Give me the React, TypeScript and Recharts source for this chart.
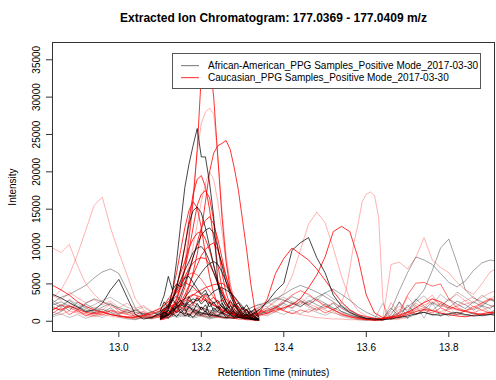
import React from 'react';
import { LineChart, Line, XAxis, YAxis } from 'recharts';

// ---------- time grids (minutes) ----------
const timeCoarse = [
  12.84, 12.86, 12.88, 12.9, 12.92, 12.94, 12.96, 12.98, 13.0, 13.02, 13.04,
  13.06, 13.08, 13.1, 13.12, 13.14, 13.16, 13.18, 13.2, 13.22, 13.24, 13.26,
  13.28, 13.3, 13.32, 13.34, 13.36, 13.38, 13.4, 13.42, 13.44, 13.46, 13.48,
  13.5, 13.52, 13.54, 13.56, 13.58, 13.6, 13.62, 13.64, 13.66, 13.68, 13.7,
  13.72, 13.74, 13.76, 13.78, 13.8, 13.82, 13.84, 13.86, 13.88, 13.9, 13.92,
];
const timePeak = [
  13.1, 13.11, 13.12, 13.13, 13.14, 13.15, 13.16, 13.17, 13.18, 13.19, 13.2, 13.21, 13.22,
  13.23, 13.24, 13.25, 13.26, 13.27, 13.28, 13.29, 13.3, 13.31, 13.32, 13.33, 13.34,
];
const timeMid = [
  13.5, 13.51, 13.52, 13.53, 13.54, 13.55, 13.56, 13.57, 13.58, 13.59, 13.6,
  13.61, 13.62, 13.63, 13.64, 13.65, 13.66, 13.67, 13.68, 13.69, 13.7,
];

// ---------- African-American samples (full window) ----------
const aaGrayA = [2500,3200,3600,4200,4800, 5800,6600,7000,6400,4200, 1800,700,500,900,1400, 2100,1700,1300,1000,800, 700,900,600,1000,1300, 1800,2400,3000,3600,4300, 4800,4400,3900,3300,2600, 1800,1100,600,300,200, 300,500,1100,1900,2800, 4200,6800,9800,11000,7800, 4200,3100,2600,2100,1900];
const aaDarkA = [3600,3100,2500,1900,1300, 1500,2400,4200,5600,3200, 900,300,500,1100,2300, 3400,2200,1600,1100,900, 700,500,400,600,900, 1500,2600,4000,5100,9500, 10500,11200,8500,6500,3500, 2000,1200,700,400,300, 200,300,500,700,1000, 1200,900,800,1000,1200, 900,700,800,900,1000];
const aaGrayB = [2200,2600,2000,1700,2400, 3000,2600,2200,1800,1500, 1200,1000,900,1300,1700, 2000,2400,2100,1800,1500, 1200,1000,1100,1400,1800, 2200,2600,3100,2800,2400, 2000,2600,3200,3800,4300, 3600,2800,1900,1200,700, 300,1500,4100,6500,8600, 8200,7600,6400,5200,4600, 5400,6800,7800,8200,8000];
const aaNoise1 = [1500,2200,1400,2600,1800, 1200,1900,2400,1600,1100, 1500,900,1300,800,1200, 700,1100,600,900,500, 800,1200,700,1000,1400, 900,1600,2100,1500,2500, 1900,2800,2200,1700,2400, 1300,900,500,300,200, 400,1800,600,2200,900, 1600,2500,1900,3000,2300, 1700,2600,2000,2900,2400];
const aaNoise2 = [800,1300,2000,1500,2300, 1700,1200,1800,900,1400, 600,1000,500,1300,2100, 1600,2500,1800,1200,900, 1300,700,1100,600,900, 1400,1000,1700,2400,1800, 2700,2100,1500,2300,1600, 2100,1400,800,400,300, 200,900,2600,1200,3000, 2000,1400,2400,1800,2700, 2200,1500,2100,1700,2600];
const aaNoise3 = [2800,2100,2900,2300,1700, 2200,2800,3200,2500,1900, 1400,1900,1200,700,400, 900,600,1100,800,400, 600,300,700,1100,1800, 2300,1900,2800,3200,2600, 2200,3400,2800,3800,3000, 2400,1600,900,300,100, 100,600,1600,900,2600, 3400,2200,3600,2700,3900, 3200,2400,3500,2800,3300];
const aaNoise4 = [2400,1900,2800,2000,1500, 1100,1600,1200,800,500, 300,600,400,900,3000, 2200,1400,2600,1800,1000, 1600,900,1300,700,500, 900,1300,1800,2500,3300, 2800,2200,3000,2400,1800, 1300,800,500,300,200, 200,400,700,500,900, 1200,800,1100,700,1000, 800,1100,700,900,600];
const aaNoise5 = [600,1000,500,900,400, 800,500,1100,600,300, 200,500,300,600,900, 500,800,400,700,300, 600,400,800,500,700, 1100,700,1300,900,1500, 1000,1600,1200,800,1300, 700,400,200,100,300, 2400,200,2600,300,2200, 400,2500,600,1900,800, 1500,900,2000,1200,1700];

// ---------- Caucasian samples (full window) ----------
const caPinkA = [3200,4200,6200,9000,12200, 15500,16600,12500,9200,6200, 3000,1500,800,600,900, 1300,1800,2500,3000,2600, 2000,1500,1100,800,600, 700,900,1300,1700,2200, 2600,2300,1900,1500,1100, 800,600,500,400,300, 400,600,900,1200,1500, 1800,1500,1300,1600,2000, 2300,2600,3200,3800,4200];
const caPinkB = [9800,9200,10300,7400,5000, 3600,2600,2000,1600,1200, 900,700,600,800,1500, 2500,3500,4200,3800,2800, 2000,1400,1000,800,900, 1200,1800,2600,3800,6000, 9500,13000,14600,13200,9800, 6000,3000,1400,700,400, 300,400,700,1100,1600, 2200,2600,2100,1800,1500, 1300,1200,1500,1900,2200];
const caPinkC = [1200,900,1400,1100,800, 600,900,700,500,400, 300,400,600,800,1000, 1300,1100,900,700,600, 500,400,500,700,900, 1200,1500,1800,1400,1100, 900,700,500,400,300, 300,200,200,200,200, 300,7600,7900,7000,8500, 11200,8200,7200,6500,5200, 4200,3600,5000,6600,7200];
const caRedA = [4800,4200,3500,2600,2000, 1500,1200,900,700,600, 500,700,1000,1400,1900, 2400,3000,3600,3200,2400, 1800,1300,900,700,600, 800,1100,1500,1800,2200, 3000,4500,6200,8600,12000, 12700,12000,8500,3500,1100, 500,400,600,900,1300, 1600,1400,1100,900,700, 600,800,1000,1200,1100];
const caRedB = [1800,1500,2100,1600,1200, 1000,1300,900,700,500, 600,800,1200,1700,2600, 3800,5200,4600,3500,2600, 1800,1200,800,600,700, 1000,3000,6400,8400,9800, 9000,8200,7000,5500,4000, 2600,1500,900,600,400, 300,500,800,1200,1800, 2500,3000,2600,2000,1600, 1300,1100,900,1000,1200];
const caRedC = [1500,2200,1800,1300,1000, 800,1100,1500,1200,900, 700,500,400,600,900, 1400,1900,1500,1100,800, 600,500,400,600,800, 1100,1400,1900,2600,3500, 4100,3600,2800,2100,1500, 1000,600,400,300,200, 300,600,1200,3500,5100, 5200,4700,5000,3000,1800, 1400,1700,2400,3000,2600];
const caNoise1 = [2000,1400,2400,1800,1200, 1900,1500,2300,1300,1000, 1600,1100,700,500,1100, 1800,1300,2200,1500,1000, 700,1200,800,500,900, 1300,1800,1200,2100,1700, 2500,1900,1400,2000,1500, 1100,700,400,200,200, 300,1200,2000,1500,2400, 1800,3000,2300,1600,2100, 2800,1900,2500,3100,2300];
const caNoise2 = [1100,1800,900,1500,700, 1200,800,1400,1000,1600, 900,1300,600,1000,1800, 2400,1500,1100,1900,1300, 900,1500,1000,700,1100, 1600,1100,1900,1400,1000, 1500,1200,1800,1100,1600, 900,600,300,200,100, 200,700,400,1300,900, 1500,1100,1800,1300,900, 1400,2000,1500,1100,1700];
const caNoise3 = [3500,2800,3900,3100,2500, 2900,2200,2700,1800,2400, 1700,2100,1300,1800,900, 1400,800,1200,700,1000, 1400,900,1300,1700,1200, 2000,2600,1900,2900,2300, 3100,2400,2800,1900,2500, 1700,1200,600,300,100, 100,2500,900,3300,1800, 2600,3500,2000,2900,3600, 2700,3300,2200,2900,3800];
const caPinkD = [2000,1800,1500,1800,2500, 4000,7000,10500,13000,16000, 17000,17300,16800,13900,3000, 400,300,200,300,400, 500];

// ---------- main peak window (13.10 - 13.34) ----------
const caRed1 = [300,500,900,1600,2800, 4500,7000,11000,16000,23000, 33000,35900,35000,30000,22000, 14000,8000,4200,2200,1200, 800,600,400,300,200];
const caPink1 = [400,700,1200,2000,3200, 5000,8000,12000,17000,22500, 26500,28000,28500,27800,22000, 15000,9000,5000,2600,1400, 900,600,400,300,200];
const caPink2 = [400,700,1100,1700,2600, 3800,5300,7500,10000,13000, 16000,18500,20000,19000,16000, 12000,8000,5000,2800,1500, 900,600,400,300,200];
const caRed2 = [200,300,500,800,1200, 2000,3000,4500,6500,9000, 12000,16000,20000,22500,23500, 23800,24200,23000,20500,17500, 13500,9500,5000,1500,500];
const caRed3 = [500,800,1500,2800,4500, 7000,10000,13500,17000,19000, 19500,18000,15000,11000,7500, 4500,2500,1500,900,600, 500,400,300,300,200];
const caRed4 = [300,600,1000,1800,3000, 4800,7000,9500,12500,15500, 17000,17500,16500,13500,10000, 6500,3800,2200,1200,800, 600,400,300,200,200];
const caRed5 = [700,1200,2200,4000,6500, 9500,12500,14800,16000,15200, 12500,9000,6000,3800,2200, 1300,800,600,400,300, 300,200,200,100,100];
const caRed6 = [200,400,700,1200,2000, 3000,4500,6500,8500,10500, 12500,13500,14000,13000,11000, 8500,6000,4000,2500,1500, 900,600,400,300,200];
const caRed7 = [800,1300,2000,3200,4800, 6500,8000,9800,11000,11800, 12000,11000,9500,7500,5500, 3800,2500,1600,1000,700, 500,400,300,300,200];
const caRed8 = [300,500,800,1200,1800, 2500,3500,4800,6200,7500, 8800,9600,10200,10500,9500, 7800,6000,4200,2800,1700, 1000,700,500,300,200];
const caRed9 = [1000,1500,2200,3000,4000, 5000,6000,7000,7800,8300, 8500,8400,7600,6500,5200, 4000,3000,2200,1500,1000, 700,500,400,300,300];
const caRed10 = [1500,2200,3000,3800,4600, 5300,5900,6300,6500,6200, 5600,4800,4000,3200,2500, 1900,1500,1100,800,600, 500,400,300,300,200];
const caRed11 = [600,800,1100,1500,1900, 2300,2700,3100,3500,3900, 4200,4500,4700,4900,5000, 5100,4700,4000,3200,2400, 1700,1200,800,500,300];
const caRedN1 = [600,1400,900,2000,1300, 2500,1800,2900,2200,3300, 2600,3600,2800,3200,2400, 2900,2100,2600,1700,2000, 1200,1600,900,500,200];
const aaBlack1 = [600,1000,1800,4000,8000, 13000,17900,21000,23500,25800, 22000,22000,18500,14000,5000, 2500,1500,900,600,500, 400,500,300,200,200];
const aaBlack2 = [500,900,1600,2800,4500, 7000,10000,13000,14800,15300, 14500,12500,10000,7500,5000, 3200,2000,1300,800,600, 400,300,300,200,200];
const aaBlack3 = [300,500,900,1500,2400, 3500,5000,6800,8600,10200, 11500,12200,12500,11800,9800, 7500,5200,3500,2200,1300, 800,500,400,300,200];
const aaBlack4 = [900,1400,2100,3000,4200, 5500,6800,8000,9200,9800, 10000,9300,8000,6500,5000, 3600,2500,1700,1100,700, 500,400,300,200,200];
const aaBlack5 = [400,600,900,1300,1800, 2400,3100,3900,4800,5700, 6500,7200,7700,8000,7600, 6600,5300,4000,2800,1800, 1100,700,500,300,200];
const aaBlack6 = [2000,3500,6000,4200,5000, 4600,5800,6000,5200,4400, 3600,4200,3000,2400,2800, 1900,1500,2100,1200,900, 700,1000,600,400,300];
const aaBlack7 = [800,1200,900,1500,1800, 2200,1900,2600,3000,2700, 3300,3700,3400,4000,4300, 4500,4200,3800,3300,2600, 2000,1400,900,500,300];
const aaBlackN1 = [400,1200,700,1800,1100, 1600,900,2000,1300,2400, 1500,2200,1000,1800,1300, 2100,1400,900,1600,1100, 1900,800,1300,600,200];
const aaBlackN2 = [900,500,1500,800,2200, 1100,1700,600,1400,900, 1900,1200,2600,1400,2000, 1000,1700,1200,2300,1500, 900,1600,700,1100,300];
const aaBlackN3 = [200,800,400,1100,600, 1300,700,1000,500,1200, 800,1400,600,1000,700, 1300,500,900,400,1100, 600,900,400,700,100];
const aaBlackN4 = [1300,2600,1800,3000,2200, 2800,2000,3300,2400,3100, 2300,2900,1900,2600,1700, 2400,1600,2800,1900,2500, 1500,2200,1200,1700,500];

// ---------- axes / labels ----------
const yTicks = [0, 5000, 10000, 15000, 20000, 25000, 30000, 35000];
const xTicks = [13.0, 13.2, 13.4, 13.6, 13.8];
const groupNames = [
  'African-American_PPG Samples_Positive Mode_2017-03-30',
  'Caucasian_PPG Samples_Positive Mode_2017-03-30',
];
const titleText = 'Extracted Ion Chromatogram: 177.0369 - 177.0409 m/z';

// ---------- styles ----------
const DARK = { color: '#000000', opacity: 0.72 };
const GRAY = { color: '#000000', opacity: 0.36 };
const LGRAY = { color: '#000000', opacity: 0.24 };
const RED = { color: '#ff0000', opacity: 0.8 };
const MRED = { color: '#ff0000', opacity: 0.55 };
const PINK = { color: '#ff0000', opacity: 0.3 };

type S = { key: string; times: number[]; values: number[]; style: { color: string; opacity: number } };

const seriesList: S[] = [
  { key: 'aaNoise3', times: timeCoarse, values: aaNoise3, style: LGRAY },
  { key: 'aaNoise5', times: timeCoarse, values: aaNoise5, style: LGRAY },
  { key: 'caNoise3', times: timeCoarse, values: caNoise3, style: PINK },
  { key: 'aaNoise1', times: timeCoarse, values: aaNoise1, style: GRAY },
  { key: 'aaNoise2', times: timeCoarse, values: aaNoise2, style: GRAY },
  { key: 'caNoise1', times: timeCoarse, values: caNoise1, style: PINK },
  { key: 'caNoise2', times: timeCoarse, values: caNoise2, style: MRED },
  { key: 'aaNoise4', times: timeCoarse, values: aaNoise4, style: GRAY },
  { key: 'aaGrayB', times: timeCoarse, values: aaGrayB, style: GRAY },
  { key: 'aaGrayA', times: timeCoarse, values: aaGrayA, style: GRAY },
  { key: 'caPinkA', times: timeCoarse, values: caPinkA, style: PINK },
  { key: 'caPinkB', times: timeCoarse, values: caPinkB, style: PINK },
  { key: 'caPinkC', times: timeCoarse, values: caPinkC, style: PINK },
  { key: 'caPinkD', times: timeMid, values: caPinkD, style: PINK },
  { key: 'caRedC', times: timeCoarse, values: caRedC, style: MRED },
  { key: 'caRedB', times: timeCoarse, values: caRedB, style: RED },
  { key: 'caRedA', times: timeCoarse, values: caRedA, style: RED },
  { key: 'aaDarkA', times: timeCoarse, values: aaDarkA, style: DARK },
  { key: 'caPink1', times: timePeak, values: caPink1, style: PINK },
  { key: 'caPink2', times: timePeak, values: caPink2, style: PINK },
  { key: 'caRedN1', times: timePeak, values: caRedN1, style: RED },
  { key: 'caRed11', times: timePeak, values: caRed11, style: RED },
  { key: 'caRed10', times: timePeak, values: caRed10, style: MRED },
  { key: 'caRed9', times: timePeak, values: caRed9, style: RED },
  { key: 'caRed8', times: timePeak, values: caRed8, style: RED },
  { key: 'caRed7', times: timePeak, values: caRed7, style: RED },
  { key: 'caRed6', times: timePeak, values: caRed6, style: RED },
  { key: 'caRed5', times: timePeak, values: caRed5, style: RED },
  { key: 'caRed4', times: timePeak, values: caRed4, style: RED },
  { key: 'caRed3', times: timePeak, values: caRed3, style: RED },
  { key: 'caRed2', times: timePeak, values: caRed2, style: RED },
  { key: 'caRed1', times: timePeak, values: caRed1, style: RED },
  { key: 'aaBlackN1', times: timePeak, values: aaBlackN1, style: DARK },
  { key: 'aaBlackN2', times: timePeak, values: aaBlackN2, style: DARK },
  { key: 'aaBlackN3', times: timePeak, values: aaBlackN3, style: DARK },
  { key: 'aaBlackN4', times: timePeak, values: aaBlackN4, style: DARK },
  { key: 'aaBlack7', times: timePeak, values: aaBlack7, style: DARK },
  { key: 'aaBlack6', times: timePeak, values: aaBlack6, style: DARK },
  { key: 'aaBlack5', times: timePeak, values: aaBlack5, style: DARK },
  { key: 'aaBlack4', times: timePeak, values: aaBlack4, style: DARK },
  { key: 'aaBlack3', times: timePeak, values: aaBlack3, style: DARK },
  { key: 'aaBlack2', times: timePeak, values: aaBlack2, style: DARK },
  { key: 'aaBlack1', times: timePeak, values: aaBlack1, style: DARK },
];

const FONT = '"Liberation Sans", Arial, Helvetica, sans-serif';

function YTick(props: any) {
  const { x, y, payload } = props;
  return (
    <text
      x={x}
      y={y}
      transform={`rotate(-90, ${x}, ${y})`}
      textAnchor="middle"
      fontSize={10}
      fontFamily={FONT}
      fill="#000"
    >
      {String(payload.value)}
    </text>
  );
}

export default function App() {
  return (
    <div style={{ position: 'absolute', left: 0, top: 0, width: 496, height: 380, background: '#fff' }}>
      <LineChart width={496} height={380} margin={{ top: 42, right: 1, bottom: 0, left: 0 }}>
        <XAxis
          dataKey="t"
          type="number"
          domain={[12.838, 13.912]}
          allowDataOverflow
          ticks={xTicks}
          tickFormatter={(v: number) => v.toFixed(1)}
          axisLine={false}
          tickLine={{ stroke: '#333' }}
          tickSize={5}
          tickMargin={7}
          height={48}
          tick={{ fontSize: 10, fill: '#000', fontFamily: FONT }}
        />
        <YAxis
          type="number"
          domain={[-1438, 37378]}
          allowDataOverflow
          ticks={yTicks}
          axisLine={false}
          tickLine={{ stroke: '#333' }}
          tickSize={6}
          tickMargin={6}
          width={52}
          tick={(p: any) => <YTick {...p} />}
        />
        {seriesList.map((s) => (
          <Line
            key={s.key}
            data={s.times.map((t, i) => ({ t, v: s.values[i] }))}
            dataKey="v"
            type="linear"
            stroke={s.style.color}
            strokeOpacity={s.style.opacity}
            strokeWidth={1}
            dot={false}
            activeDot={false}
            isAnimationActive={false}
          />
        ))}
      </LineChart>
      <svg
        width={496}
        height={380}
        style={{ position: 'absolute', left: 0, top: 0, pointerEvents: 'none' }}
      >
        <rect x={52.5} y={42.5} width={442} height={289} fill="none" stroke="#333" strokeWidth={1} />
        <text x={273.5} y={22} textAnchor="middle" fontSize={12} fontWeight="bold" fontFamily={FONT} fill="#000">
          {titleText}
        </text>
        <text
          x={16}
          y={187}
          transform="rotate(-90, 16, 187)"
          textAnchor="middle"
          fontSize={10}
          fontFamily={FONT}
          fill="#000"
        >
          Intensity
        </text>
        <text x={273.5} y={376} textAnchor="middle" fontSize={10} fontFamily={FONT} fill="#000">
          Retention Time (minutes)
        </text>
        <rect x={172.5} y={53.5} width={308} height={35} fill="#fff" stroke="#555" strokeWidth={1} />
        <rect x={181} y={65} width={18} height={1.2} fill="#8a8a8a" />
        <rect x={181} y={77} width={18} height={1.2} fill="#ff4d4d" />
        <text x={208} y={69} fontSize={10} fontFamily={FONT} fill="#000">
          {groupNames[0]}
        </text>
        <text x={208} y={81} fontSize={10} fontFamily={FONT} fill="#000">
          {groupNames[1]}
        </text>
      </svg>
    </div>
  );
}
